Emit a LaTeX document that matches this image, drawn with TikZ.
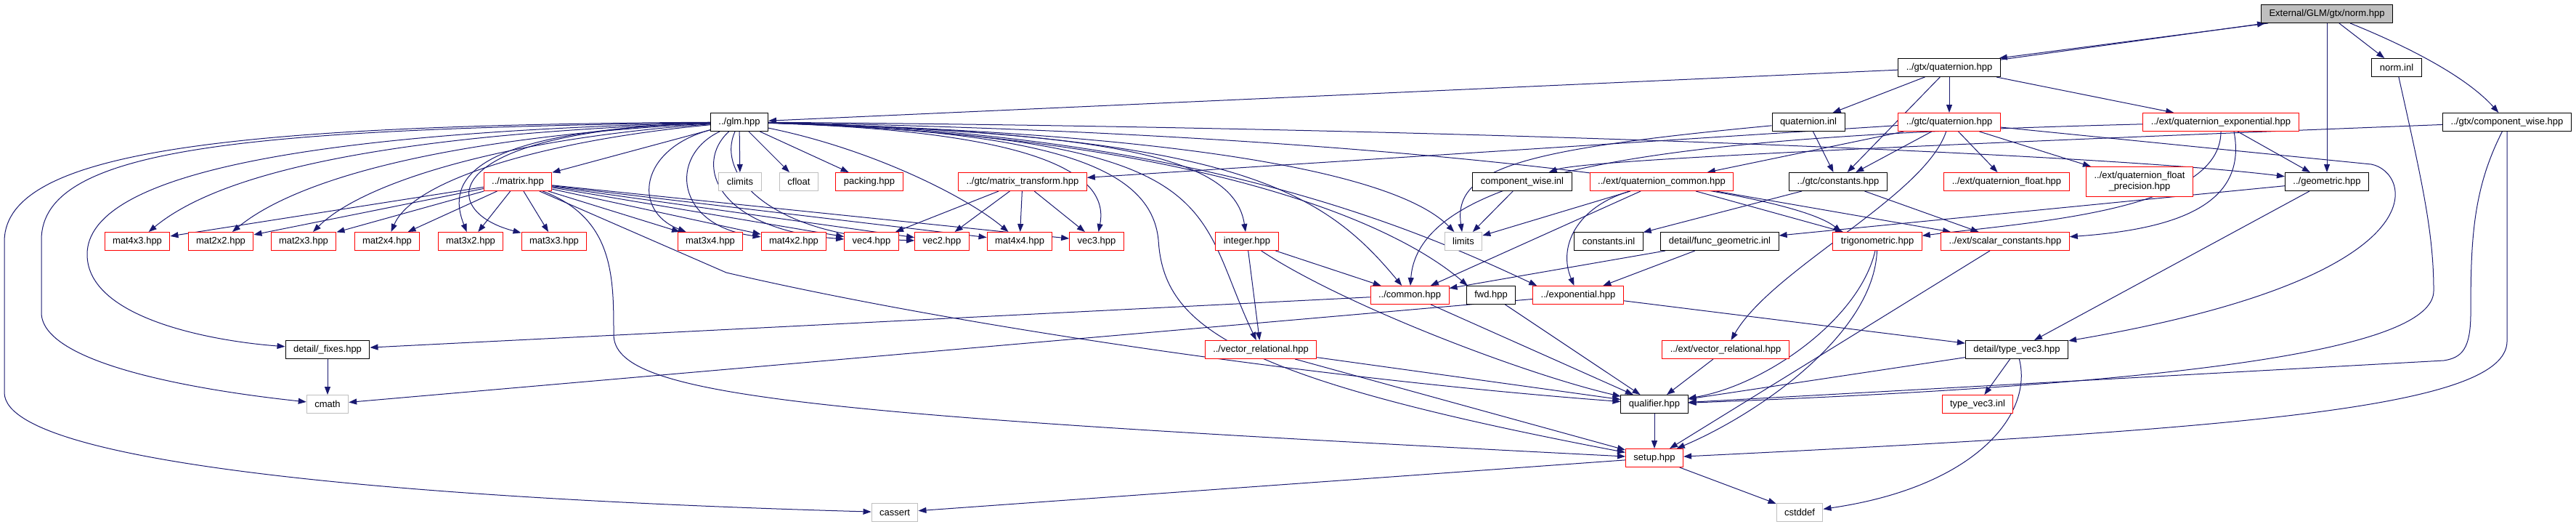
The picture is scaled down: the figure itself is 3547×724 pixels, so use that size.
\documentclass[tikz,border=0pt]{standalone}
\usepackage{fontspec}
\setmainfont{Liberation Sans}
\usetikzlibrary{arrows.meta,backgrounds}
\definecolor{edgeblue}{HTML}{191970}
\definecolor{boxgray}{HTML}{BFBFBF}
\tikzset{
  filenode/.style={draw=black, fill=white, line width=0.5pt, inner xsep=5.5pt, inner ysep=0pt,
    minimum height=12.5pt, font=\fontsize{6.5}{7.5}\selectfont},
  truncnode/.style={filenode, draw=red},
  sysnode/.style={filenode, draw=boxgray},
  rootnode/.style={filenode, fill=boxgray},
  incl/.style={draw=edgeblue, line width=0.5pt, -{Triangle[length=5.5pt,width=4pt]}},
}
\begin{document}
\begin{tikzpicture}[x=0.5pt, y=-0.5pt]
  \useasboundingbox (0,0) rectangle (3547,724);
  % files
  \node[rootnode] (normhpp) at (3204,19) {External/GLM/gtx/norm.hpp};
  \node[filenode] (gtxquat) at (2684,93) {../gtx/quaternion.hpp};
  \node[filenode] (norminl) at (3300,93) {norm.inl};
  \node[filenode] (glm) at (1018,168) {../glm.hpp};
  \node[filenode] (quatinl) at (2490,168) {quaternion.inl};
  \node[truncnode] (gtcquat) at (2684,168) {../gtc/quaternion.hpp};
  \node[truncnode] (quatexp) at (3058,168) {../ext/quaternion\_exponential.hpp};
  \node[filenode] (gtxcw) at (3452,168) {../gtx/component\_wise.hpp};
  \node[truncnode] (matrix) at (713,250) {../matrix.hpp};
  \node[sysnode] (climits) at (1019,250) {climits};
  \node[sysnode] (cfloat) at (1100,250) {cfloat};
  \node[truncnode] (packing) at (1197,250) {packing.hpp};
  \node[truncnode] (mattrans) at (1408,250) {../gtc/matrix\_transform.hpp};
  \node[filenode] (cwinl) at (2096,250) {component\_wise.inl};
  \node[truncnode] (quatcommon) at (2288,250) {../ext/quaternion\_common.hpp};
  \node[filenode] (gtcconst) at (2531,250) {../gtc/constants.hpp};
  \node[truncnode] (quatfloat) at (2763,250) {../ext/quaternion\_float.hpp};
  \node[truncnode, align=center, minimum height=20.5pt] (quatfloatprec) at (2946,250) {../ext/quaternion\_float\\\_precision.hpp};
  \node[filenode] (geometric) at (3204,250) {../geometric.hpp};
  \node[truncnode] (mat4x3) at (189,332) {mat4x3.hpp};
  \node[truncnode] (mat2x2) at (304,332) {mat2x2.hpp};
  \node[truncnode] (mat2x3) at (418,332) {mat2x3.hpp};
  \node[truncnode] (mat2x4) at (533,332) {mat2x4.hpp};
  \node[truncnode] (mat3x2) at (648,332) {mat3x2.hpp};
  \node[truncnode] (mat3x3) at (763,332) {mat3x3.hpp};
  \node[truncnode] (mat3x4) at (978,332) {mat3x4.hpp};
  \node[truncnode] (mat4x2) at (1093,332) {mat4x2.hpp};
  \node[truncnode] (vec4) at (1200,332) {vec4.hpp};
  \node[truncnode] (vec2) at (1297,332) {vec2.hpp};
  \node[truncnode] (mat4x4) at (1404,332) {mat4x4.hpp};
  \node[truncnode] (vec3) at (1510,332) {vec3.hpp};
  \node[truncnode] (integer) at (1717,332) {integer.hpp};
  \node[sysnode] (limits) at (2015,332) {limits};
  \node[filenode] (constinl) at (2215,332) {constants.inl};
  \node[filenode] (funcgeom) at (2368,332) {detail/func\_geometric.inl};
  \node[truncnode] (trig) at (2585,332) {trigonometric.hpp};
  \node[truncnode] (scalarconst) at (2761,332) {../ext/scalar\_constants.hpp};
  \node[truncnode] (common) at (1941,406) {../common.hpp};
  \node[filenode] (fwd) at (2053,406) {fwd.hpp};
  \node[truncnode] (exponential) at (2173,406) {../exponential.hpp};
  \node[filenode] (fixes) at (451,481) {detail/\_fixes.hpp};
  \node[truncnode] (vecrel) at (1736,481) {../vector\_relational.hpp};
  \node[truncnode] (extvecrel) at (2376,481) {../ext/vector\_relational.hpp};
  \node[filenode] (typevec3) at (2777,481) {detail/type\_vec3.hpp};
  \node[sysnode] (cmath) at (451,556) {cmath};
  \node[filenode] (qualifier) at (2278,556) {qualifier.hpp};
  \node[truncnode] (typevec3inl) at (2723,556) {type\_vec3.inl};
  \node[truncnode] (setup) at (2278,630) {setup.hpp};
  \node[sysnode] (cassert) at (1232,705) {cassert};
  \node[sysnode] (cstddef) at (2478,705) {cstddef};

  \begin{pgfonlayer}{background}
  % norm.hpp
  \draw[incl] ([xshift=5pt]normhpp.south west) -- ([xshift=-1pt]gtxquat.north east);
  \draw[incl] ([xshift=-1pt,yshift=-1.2pt]gtxquat.north east) -- ([xshift=3pt]normhpp.south west);
  \draw[incl] (normhpp) -- (norminl);
  \draw[incl] (normhpp) -- (geometric);
  \draw[incl] (normhpp) .. controls (3330,70) and (3400,110) .. (gtxcw);
  % gtx/quaternion.hpp
  \draw[incl] (gtxquat) -- (glm);
  \draw[incl] (gtxquat) -- (quatinl);
  \draw[incl] (gtxquat) -- (gtcconst);
  \draw[incl] (gtxquat) -- (gtcquat);
  \draw[incl] (gtxquat) -- (quatexp);
  % gtc/quaternion.hpp
  \draw[incl] (gtcquat) -- (mattrans);
  \draw[incl] (gtcquat) -- (gtcconst);
  \draw[incl] (gtcquat) -- (quatcommon);
  \draw[incl] (gtcquat) .. controls (2650,270) and (2440,370) .. (extvecrel);
  \draw[incl] (gtcquat) -- (quatfloat);
  \draw[incl] (gtcquat) -- (quatfloatprec);
  \draw[incl] (gtcquat) -- (3265,226) .. controls (3320,236) and (3370,380) .. (typevec3);
  % quaternion.inl, quaternion_exponential.hpp
  \draw[incl] (quatinl) .. controls (2100,205) and (2000,230) .. (limits);
  \draw[incl] (quatinl) -- (gtcconst);
  \draw[incl] (quatexp) .. controls (2400,185) and (1955,215) .. (common);
  \draw[incl] (quatexp) .. controls (3058,290) and (2800,305) .. (trig);
  \draw[incl] ([xshift=9pt]quatexp.south) .. controls (3095,280) and (3000,315) .. (scalarconst);
  \draw[incl] (quatexp) -- (geometric);
  % gtx/component_wise.hpp, norm.inl
  \draw[incl] (gtxcw) .. controls (2500,205) and (2175,222) .. (cwinl);
  \draw[incl] (gtxcw) .. controls (3405,260) and (3402,330) .. (3402,430)
    .. controls (3402,480) and (3390,492) .. (3365,496) -- (qualifier);
  \draw[incl] (gtxcw) -- (3452,470) .. controls (3450,560) and (3100,590) .. (setup);
  \draw[incl] (norminl) .. controls (3335,250) and (3351,320) .. (3351,400)
    .. controls (3351,470) and (3100,525) .. (qualifier);
  % glm.hpp
  \draw[incl] (glm) .. controls (300,172) and (10,210) .. (6,330) -- (6,540)
    .. controls (6,650) and (700,690) .. (cassert);
  \draw[incl] (glm) .. controls (350,178) and (57,200) .. (57,330) -- (57,430)
    .. controls (57,505) and (300,540) .. (cmath);
  \draw[incl] (glm) .. controls (420,182) and (120,240) .. (120,350)
    .. controls (120,440) and (300,470) .. (fixes);
  \draw[incl] (glm) .. controls (520,185) and (300,240) .. (mat4x3);
  \draw[incl] (glm) .. controls (620,188) and (410,245) .. (mat2x2);
  \draw[incl] (glm) .. controls (700,190) and (500,250) .. (mat2x3);
  \draw[incl] (glm) .. controls (760,192) and (570,245) .. (mat2x4);
  \draw[incl] (glm) .. controls (640,180) and (615,250) .. (mat3x2);
  \draw[incl] (glm) .. controls (600,180) and (600,290) .. (mat3x3);
  \draw[incl] (glm) -- (matrix);
  \draw[incl] (glm) .. controls (880,205) and (870,290) .. (mat3x4);
  \draw[incl] (glm) .. controls (920,215) and (930,310) .. (mat4x2);
  \draw[incl] (glm) .. controls (955,225) and (985,315) .. (vec4);
  \draw[incl] (glm) .. controls (985,240) and (1060,325) .. (vec2);
  \draw[incl] (glm) -- (climits);
  \draw[incl] (glm) -- (cfloat);
  \draw[incl] (glm) -- (packing);
  \draw[incl] (glm) .. controls (1200,205) and (1330,270) .. (mat4x4);
  \draw[incl] (glm) .. controls (1400,180) and (1530,230) .. (vec3);
  \draw[incl] (glm) .. controls (1550,182) and (1700,220) .. (integer);
  \draw[incl] (glm) .. controls (1700,190) and (1640,280) .. (vecrel);
  \draw[incl] (glm) .. controls (1450,180) and (1585,230) .. (1595,330)
    .. controls (1602,450) and (1700,520) .. (setup);
  \draw[incl] (glm) .. controls (1700,185) and (1820,260) .. (common);
  \draw[incl] (glm) .. controls (1600,185) and (1900,290) .. ([xshift=1pt]fwd.north west);
  \draw[incl] (glm) .. controls (1650,180) and (1960,320) .. ([xshift=3pt]exponential.north west);
  \draw[incl] (glm) .. controls (1700,185) and (1935,250) .. (limits);
  \draw[incl] (glm) .. controls (1800,180) and (2450,250) .. ([xshift=6pt]trig.north west);
  \draw[incl] (glm) .. controls (2000,175) and (2900,212) .. (geometric);
  % matrix.hpp, matrix_transform.hpp
  \draw[incl] (matrix) -- (mat4x3);
  \draw[incl] (matrix) -- (mat2x2);
  \draw[incl] (matrix) -- (mat2x3);
  \draw[incl] (matrix) -- (mat2x4);
  \draw[incl] (matrix) -- (mat3x2);
  \draw[incl] (matrix) -- (mat3x3);
  \draw[incl] (matrix) -- (mat3x4);
  \draw[incl] (matrix) -- (mat4x2);
  \draw[incl] (matrix) -- (vec4);
  \draw[incl] (matrix) -- (vec2);
  \draw[incl] (matrix) -- (mat4x4);
  \draw[incl] (matrix) -- (vec3);
  \draw[incl] (matrix) -- (1000,375) .. controls (1300,445) and (1800,520) .. (qualifier);
  \draw[incl] (matrix) .. controls (845,300) and (845,380) .. (845,460)
    .. controls (845,545) and (1100,570) .. (setup);
  \draw[incl] (mattrans) -- (vec4);
  \draw[incl] (mattrans) -- (vec2);
  \draw[incl] (mattrans) -- (mat4x4);
  \draw[incl] (mattrans) -- (vec3);
  % integer.hpp
  \draw[incl] (integer) -- (vecrel);
  \draw[incl] (integer) -- (common);
  \draw[incl] (integer) .. controls (1850,420) and (2100,515) .. (qualifier);
  % ext and gtc headers
  \draw[incl] (cwinl) -- (limits);
  \draw[incl] (quatcommon) -- (limits);
  \draw[incl] (quatcommon) -- (common);
  \draw[incl] (quatcommon) .. controls (2170,285) and (2145,340) .. (exponential);
  \draw[incl] (quatcommon) -- (trig);
  \draw[incl] (quatcommon) -- (scalarconst);
  \draw[incl] (gtcconst) -- (constinl);
  \draw[incl] (gtcconst) -- (scalarconst);
  \draw[incl] (geometric) -- (funcgeom);
  \draw[incl] (geometric) -- (typevec3);
  \draw[incl] (funcgeom) -- (common);
  \draw[incl] (funcgeom) -- (exponential);
  \draw[incl] (trig) .. controls (2560,440) and (2430,530) .. (qualifier);
  \draw[incl] (trig) .. controls (2580,460) and (2420,570) .. (setup);
  \draw[incl] (scalarconst) -- (setup);
  % lower headers
  \draw[incl] (exponential) -- (typevec3);
  \draw[incl] (exponential) -- (cmath);
  \draw[incl] (common) -- (fixes);
  \draw[incl] (common) -- (qualifier);
  \draw[incl] (fwd) -- (qualifier);
  \draw[incl] (fixes) -- (cmath);
  \draw[incl] (vecrel) -- (qualifier);
  \draw[incl] (vecrel) -- (setup);
  \draw[incl] (extvecrel) -- (qualifier);
  \draw[incl] (typevec3) -- (qualifier);
  \draw[incl] (typevec3) -- (typevec3inl);
  \draw[incl] (typevec3) .. controls (2800,570) and (2720,670) .. (cstddef);
  \draw[incl] (qualifier) -- (setup);
  \draw[incl] (setup) -- (cassert);
  \draw[incl] (setup) -- (cstddef);
  \end{pgfonlayer}
\end{tikzpicture}
\end{document}
